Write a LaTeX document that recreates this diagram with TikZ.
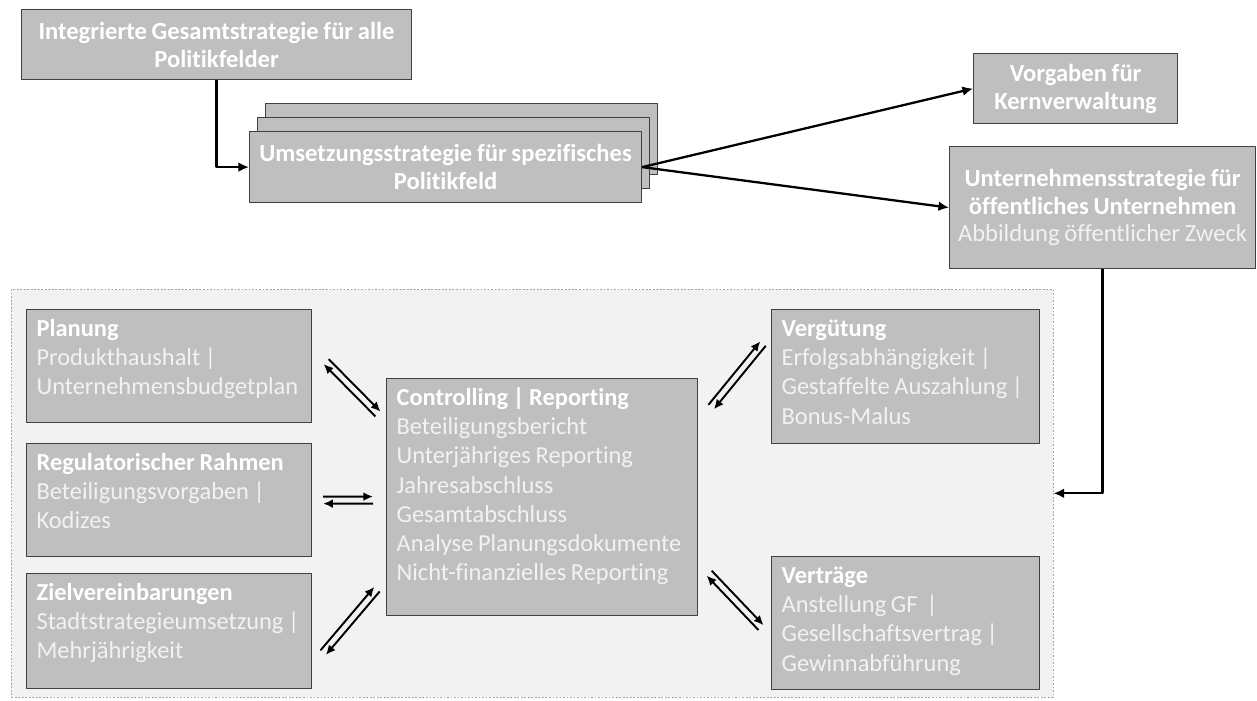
\documentclass[tikz,border=0pt]{standalone}
\usepackage{fontspec}
\setmainfont{Carlito}[Ligatures=NoCommon, WordSpace=0.85]
\usetikzlibrary{arrows.meta,calc}

\definecolor{boxgray}{HTML}{BFBFBF}
\definecolor{boxline}{HTML}{404040}
\definecolor{paneltone}{HTML}{F2F2F2}
\definecolor{panelline}{HTML}{A6A6A6}
\definecolor{softwhite}{HTML}{F2F2F2}

% Kopfzeile in den Kaesten
\newcommand{\head}[1]{{\bfseries\color{white}#1}}
% Doppelpfeil: zwei parallele Linien, Spitzen gegenlaeufig
\newcommand{\twoway}[2]{%
  \draw[pair, -{Latex[length=5.5pt,width=5pt]}]
    ($(#1)!2pt!90:(#2)$) -- ($(#2)!2pt!-90:(#1)$);
  \draw[pair, {Latex[length=5.5pt,width=5pt]}-]
    ($(#1)!2pt!-90:(#2)$) -- ($(#2)!2pt!90:(#1)$);}

\begin{document}
\begin{tikzpicture}[
    x=0.02cm, y=-0.02cm, line join=round,
    card/.style={draw=boxline, fill=boxgray, line width=0.7pt, anchor=north west},
    topbox/.style={card, align=center, inner sep=0pt, text=white,
      font=\fontsize{14}{15.8}\selectfont\bfseries},
    listbox/.style={card, align=left, text width=#1, inner xsep=0.2cm,
      inner ysep=0pt, text height=0.54cm, text=softwhite,
      font=\fontsize{13.9}{16.6}\selectfont,
      execute at begin node={\spaceskip=0pt\xspaceskip=0pt\relax}},
    link/.style={line width=1.3pt, -{Latex[length=6pt,width=5.5pt]}},
    pair/.style={line width=1.1pt}]
  \useasboundingbox (0,0) rectangle (1257,700);

  % Strategieebene
  \node[topbox, minimum width=7.8cm, minimum height=1.4cm] (integ) at (21,9)
    {Integrierte Gesamtstrategie für alle\\Politikfelder};
  \node[card, minimum width=7.84cm, minimum height=1.42cm] (stack2) at (265,103) {};
  \node[card, minimum width=7.84cm, minimum height=1.42cm] (stack1) at (257,117) {};
  \node[topbox, minimum width=7.84cm, minimum height=1.42cm] (front) at (249,131)
    {Umsetzungsstrategie für spezifisches\\Politikfeld};
  \node[topbox, minimum width=4.08cm, minimum height=1.4cm] (vorg) at (973,53)
    {Vorgaben für\\Kernverwaltung};
  \node[topbox, minimum width=6.12cm, minimum height=2.44cm] (unt) at (949,146)
    {Unternehmensstrategie für\\öffentliches Unternehmen\\
     {\mdseries\color{softwhite}Abbildung öffentlicher Zweck}};

  \draw[link] (integ.south) |- (front.west);
  \draw[link] (front.east) -- (vorg.west);
  \draw[link] (front.east) -- (unt.west);

  % Steuerungsinstrumente
  \node[card, draw=panelline, fill=paneltone, line width=0.4pt,
    dash pattern=on 1pt off 1pt, inner sep=0pt,
    minimum width=20.84cm, minimum height=8.16cm] (panel) at (11,289) {};
  \draw[link] (unt.south) |- (panel.east);

  \node[listbox=5.3cm, text depth=1.72cm] (plan) at (26,309)
    {\head{Planung}\\Produkthaushalt |\\Unternehmensbudgetplan};
  \node[listbox=5.3cm, text depth=1.72cm] (reg) at (26,443)
    {\head{Regulatorischer Rahmen}\\Beteiligungsvorgaben |\\Kodizes};
  \node[listbox=5.3cm, text depth=1.76cm] (ziel) at (26,573)
    {\head{Zielvereinbarungen}\\Stadtstrategieumsetzung |\\Mehrjährigkeit};
  \node[listbox=5.82cm, text depth=4.2cm] (ctrl) at (386,378)
    {\head{Controlling | Reporting}\\Beteiligungsbericht\\
     Unterjähriges Reporting\\Jahresabschluss\\Gesamtabschluss\\
     Analyse Planungsdokumente\\Nicht-finanzielles Reporting};
  \node[listbox=4.96cm, text depth=2.14cm] (verg) at (771,309)
    {\head{Vergütung}\\Erfolgsabhängigkeit |\\Gestaffelte Auszahlung |\\Bonus-Malus};
  \node[listbox=4.96cm, text depth=2.12cm] (vert) at (771,556)
    {\head{Verträge}\\Anstellung GF \,|\\Gesellschaftsvertrag |\\Gewinnabführung};

  % Enden der Doppelpfeile
  \coordinate (pl1) at ([shift={(14,-4.5)}]plan.east);
  \coordinate (pl2) at ([shift={(-8,36)}]ctrl.north west);
  \coordinate (rg1) at ([shift={(11,0)}]reg.east);
  \coordinate (rg2) at ([shift={(-13,3)}]ctrl.west);
  \coordinate (zv1) at ([shift={(11,21.5)}]ziel.east);
  \coordinate (zv2) at ([shift={(-9,-27)}]ctrl.south west);
  \coordinate (vg1) at ([shift={(13,29)}]ctrl.north east);
  \coordinate (vg2) at ([shift={(-8,-33)}]verg.west);
  \coordinate (vt1) at ([shift={(11,-43)}]ctrl.south east);
  \coordinate (vt2) at ([shift={(-10,4.5)}]vert.west);

  \twoway{pl1}{pl2}
  \twoway{rg1}{rg2}
  \twoway{zv1}{zv2}
  \twoway{vg1}{vg2}
  \twoway{vt1}{vt2}
\end{tikzpicture}
\end{document}
